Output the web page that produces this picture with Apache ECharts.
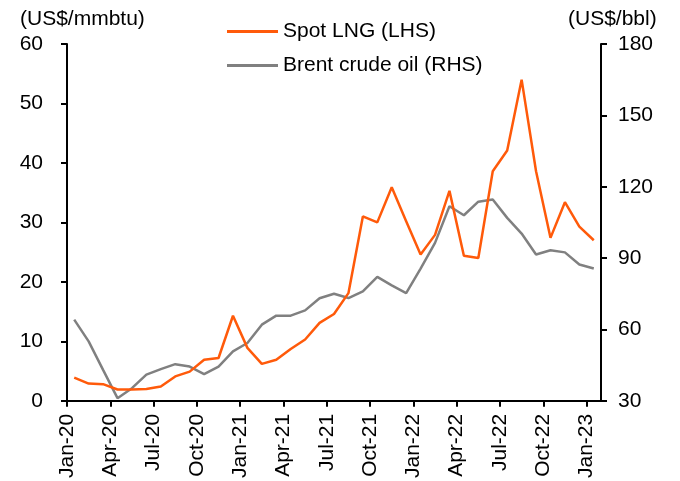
<!DOCTYPE html>
<html>
<head>
<meta charset="utf-8">
<script src="https://cdn.jsdelivr.net/npm/echarts@6/dist/echarts.min.js"></script>
<style>
  html, body { margin: 0; padding: 0; background: #fff; }
  #chart { width: 680px; height: 481px; }
</style>
</head>
<body>
<div id="chart"></div>
<script>
// monthly, Jan-20 .. Jan-23
const months = [
  'Jan-20', 'Feb-20', 'Mar-20', 'Apr-20', 'May-20', 'Jun-20', 'Jul-20', 'Aug-20', 'Sep-20', 'Oct-20', 'Nov-20', 'Dec-20',
  'Jan-21', 'Feb-21', 'Mar-21', 'Apr-21', 'May-21', 'Jun-21', 'Jul-21', 'Aug-21', 'Sep-21', 'Oct-21', 'Nov-21', 'Dec-21',
  'Jan-22', 'Feb-22', 'Mar-22', 'Apr-22', 'May-22', 'Jun-22', 'Jul-22', 'Aug-22', 'Sep-22', 'Oct-22', 'Nov-22', 'Dec-22',
  'Jan-23'
]

const spotLng = [
  3.9, 2.9, 2.8, 1.9, 1.9, 2.0, 2.4, 4.1, 4.9, 6.9, 7.2, 14.3,
  8.9, 6.2, 6.9, 8.7, 10.3, 13.1, 14.6, 18.1, 31.0, 30.0, 35.9, 30.2,
  24.6, 27.9, 35.3, 24.4, 24.0, 38.6, 42.1, 54.0, 38.6, 27.4, 33.4, 29.3,
  27.0
]

const brent = [
  64.1, 55.0, 43.0, 31.1, 35.3, 41.0, 43.3, 45.4, 44.4, 41.2, 44.4, 50.8,
  54.3, 62.0, 65.8, 65.8, 68.0, 73.1, 75.0, 73.2, 76.0, 82.1, 78.5, 75.3,
  85.6, 96.4, 111.8, 108.0, 113.7, 114.6, 106.9, 100.3, 91.5, 93.3, 92.4, 87.3,
  85.6
]

const leftTicks = { min: 0, max: 60, interval: 10 }
const rightTicks = { min: 30, max: 180, interval: 30 }

// each month sits in the middle of its slot, labels sit on slot boundaries
const toPoints = arr => arr.map((v, i) => [i + 0.5, v])

const font = 'Liberation Sans, Arial, sans-serif'
const fs = 21
const myChart = echarts.init(document.getElementById('chart'))

const option = {
  backgroundColor: '#fff',
  animation: false,
  textStyle: { fontFamily: font },
  title: [{
    text: '(US$/mmbtu)',
    left: 15,
    top: 4,
    textStyle: { fontSize: fs, fontWeight: 'normal', color: '#000', fontFamily: font }
  }, {
    text: '(US$/bbl)',
    left: 563,
    top: 4,
    textStyle: { fontSize: fs, fontWeight: 'normal', color: '#000', fontFamily: font }
  }],
  legend: {
    orient: 'vertical',
    left: 222,
    top: 16,
    itemWidth: 51,
    itemHeight: 3,
    itemGap: 13,
    icon: 'rect',
    textStyle: { fontSize: fs, color: '#000', fontFamily: font },
    data: ['Spot LNG (LHS)', 'Brent crude oil (RHS)']
  },
  grid: {
    left: 67,
    right: 79,
    top: 44,
    bottom: 80
  },
  xAxis: {
    type: 'value',
    min: 0,
    max: months.length,
    interval: 3,
    axisLine: { lineStyle: { color: '#000', width: 2 } },
    axisTick: { show: true, length: 6, lineStyle: { color: '#000', width: 2 } },
    splitLine: { show: false },
    axisLabel: {
      rotate: 90,
      fontSize: fs,
      color: '#000',
      margin: 13,
      showMaxLabel: false,
      formatter: v => (v % 3 === 0 && v < months.length) ? months[v] : ''
    }
  },
  yAxis: [{
    type: 'value',
    min: leftTicks.min,
    max: leftTicks.max,
    interval: leftTicks.interval,
    axisLine: { show: true, lineStyle: { color: '#000', width: 2 } },
    axisTick: { show: true, length: 6, lineStyle: { color: '#000', width: 2 } },
    splitLine: { show: false },
    axisLabel: { fontSize: fs, color: '#000', margin: 24 }
  }, {
    type: 'value',
    position: 'right',
    min: rightTicks.min,
    max: rightTicks.max,
    interval: rightTicks.interval,
    axisLine: { show: true, lineStyle: { color: '#000', width: 2 } },
    axisTick: { show: true, length: 6, lineStyle: { color: '#000', width: 2 } },
    splitLine: { show: false },
    axisLabel: { fontSize: fs, color: '#000', margin: 17 }
  }],
  series: [{
    name: 'Spot LNG (LHS)',
    type: 'line',
    yAxisIndex: 0,
    data: toPoints(spotLng),
    showSymbol: false,
    symbol: 'none',
    itemStyle: { color: '#FF5A0A' },
    lineStyle: { color: '#FF5A0A', width: 2.5 },
    z: 3
  }, {
    name: 'Brent crude oil (RHS)',
    type: 'line',
    yAxisIndex: 1,
    data: toPoints(brent),
    showSymbol: false,
    symbol: 'none',
    itemStyle: { color: '#808080' },
    lineStyle: { color: '#808080', width: 2.5 },
    z: 2
  }]
}

myChart.setOption(option)
</script>
</body>
</html>
